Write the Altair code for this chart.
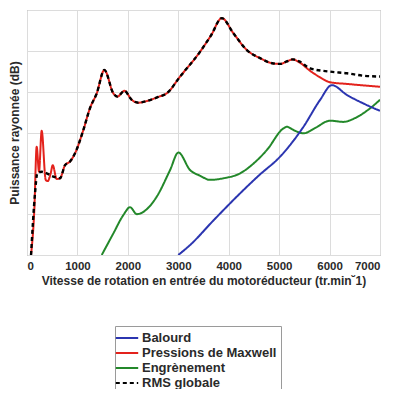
import altair as alt
import pandas as pd

# Pressions de Maxwell (red)
red_x = [80, 145, 192, 238, 291, 371, 410, 470, 510, 589, 655, 754, 853, 952, 1117, 1250, 1383, 1534,
         1712, 1792, 1931, 2077, 2210, 2400, 2600, 2772, 3036, 3433, 3650, 3863, 4093, 4359, 4623, 4888,
         5020, 5150, 5272, 5400, 5615, 5800, 6012, 6343, 6700, 7000]
red_y = [0, 1.1, 2.65, 2.04, 3.04, 1.84, 1.81, 2.0, 2.2, 1.86, 1.88, 2.2, 2.29, 2.49, 3.06, 3.6, 3.96, 4.53,
         3.96, 3.88, 4.02, 3.8, 3.73, 3.78, 3.87, 3.96, 4.37, 4.98, 5.38, 5.80, 5.43, 5.02, 4.82, 4.69,
         4.68, 4.74, 4.79, 4.72, 4.51, 4.36, 4.23, 4.19, 4.15, 4.12]

# RMS globale (black dashed)
rms_x = [80, 159, 204, 291, 390, 522, 655, 754, 853, 952, 1117, 1250, 1383, 1534,
         1712, 1792, 1931, 2077, 2210, 2400, 2600, 2772, 3036, 3433, 3650, 3863, 4093, 4359, 4623, 4888,
         5020, 5150, 5272, 5400, 5615, 6012, 6343, 6673, 7000]
rms_y = [0, 1.51, 2.0, 2.04, 2.0, 1.92, 1.88, 2.2, 2.29, 2.49, 3.06, 3.6, 3.96, 4.53,
         3.96, 3.88, 4.02, 3.8, 3.73, 3.78, 3.87, 3.96, 4.37, 4.98, 5.38, 5.80, 5.43, 5.02, 4.82, 4.69,
         4.68, 4.74, 4.79, 4.74, 4.57, 4.49, 4.45, 4.39, 4.37]

# Balourd (blue)
blue_x = [3000, 3234, 3700, 4226, 4600, 5020, 5482, 5813, 6045, 6343, 6673, 7000]
blue_y = [0, 0.245, 0.85, 1.51, 1.95, 2.41, 3.14, 3.80, 4.16, 3.92, 3.71, 3.53]

# Engrènement (green)
green_x = [1482, 1713, 1911, 2044, 2177, 2400, 2573, 2837, 3002, 3234, 3433, 3631, 3900, 4226, 4500,
           4756, 5085, 5152, 5300, 5482, 5700, 6012, 6276, 6500, 6800, 7000]
green_y = [0, 0.53, 0.98, 1.17, 1.0, 1.15, 1.43, 2.08, 2.51, 2.08, 1.94, 1.84, 1.88, 2.0, 2.25,
           2.57, 3.10, 3.14, 3.05, 2.98, 3.10, 3.29, 3.26, 3.35, 3.59, 3.80]

series_names = ["Balourd", "Pressions de Maxwell", "Engrènement", "RMS globale"]
series_colors = ["#2b35b0", "#e3221c", "#23882a", "#000000"]
series_dash = [[1, 0], [1, 0], [1, 0], [4, 3]]

x_ticks = [0, 1000, 2000, 3000, 4000, 5000, 6000, 7000]
y_ticks = [0, 1, 2, 3, 4, 5, 6]

rows = []
for name, xs, ys in [("Engrènement", green_x, green_y), ("Balourd", blue_x, blue_y),
                     ("Pressions de Maxwell", red_x, red_y), ("RMS globale", rms_x, rms_y)]:
    for i, (a, b) in enumerate(zip(xs, ys)):
        rows.append({"serie": name, "x": a, "y": b, "o": i})
df = pd.DataFrame(rows)

FONT = "Liberation Sans"
TXT = "#2a2a2a"

xscale = alt.Scale(domain=[0, 7000], nice=False)
yscale = alt.Scale(domain=[0, 6], nice=False)

def layer(name):
    return alt.Chart(df).transform_filter(alt.datum.serie == name).mark_line(
        strokeWidth=2 if name != "RMS globale" else 2.4, interpolate="monotone", clip=True
    ).encode(
        x=alt.X("x:Q", scale=xscale,
                axis=alt.Axis(values=x_ticks, format="d", title="Vitesse de rotation en entrée du motoréducteur (tr.min˘1)",
                              ticks=False, domain=False, labelPadding=5, titlePadding=4,
                              labelFontSize=11.5, labelFontWeight="bold", titleFontSize=12, titleFontWeight="bold",
                              labelColor=TXT, titleColor=TXT, gridColor="#dcdcdc", labelFont=FONT, titleFont=FONT)),
        y=alt.Y("y:Q", scale=yscale,
                axis=alt.Axis(values=y_ticks, labels=False, ticks=False, domain=False,
                              title="Puissance rayonnée (dB)", titlePadding=6, titleFontSize=12,
                              titleFontWeight="bold", titleColor=TXT, gridColor="#dcdcdc", titleFont=FONT)),
        color=alt.Color("serie:N", scale=alt.Scale(domain=series_names, range=series_colors), title=None,
                        legend=alt.Legend(orient="none", legendX=88, legendY=316, symbolType="M-1.6,0H1.6",
                                          symbolSize=196, symbolStrokeWidth=2, labelFontSize=13,
                                          labelFontWeight="bold", labelFont=FONT, labelColor=TXT,
                                          strokeColor="#9a9a9a", padding=4, rowPadding=0, labelOffset=7,
                                          fillColor="white")),
        strokeDash=alt.StrokeDash("serie:N", scale=alt.Scale(domain=series_names, range=series_dash), title=None),
        order="o:Q",
    )

chart = alt.layer(*[layer(n) for n in ["Engrènement", "Balourd", "Pressions de Maxwell", "RMS globale"]]).properties(
    width=353, height=245,
    autosize=alt.AutoSizeParams(type="none"),
    padding={"left": 19, "top": 2, "right": 5, "bottom": 134},
).configure_view(stroke="#8a8a8a", strokeWidth=1)

chart.save("out.html", embed_options={"renderer": "svg", "actions": False})
